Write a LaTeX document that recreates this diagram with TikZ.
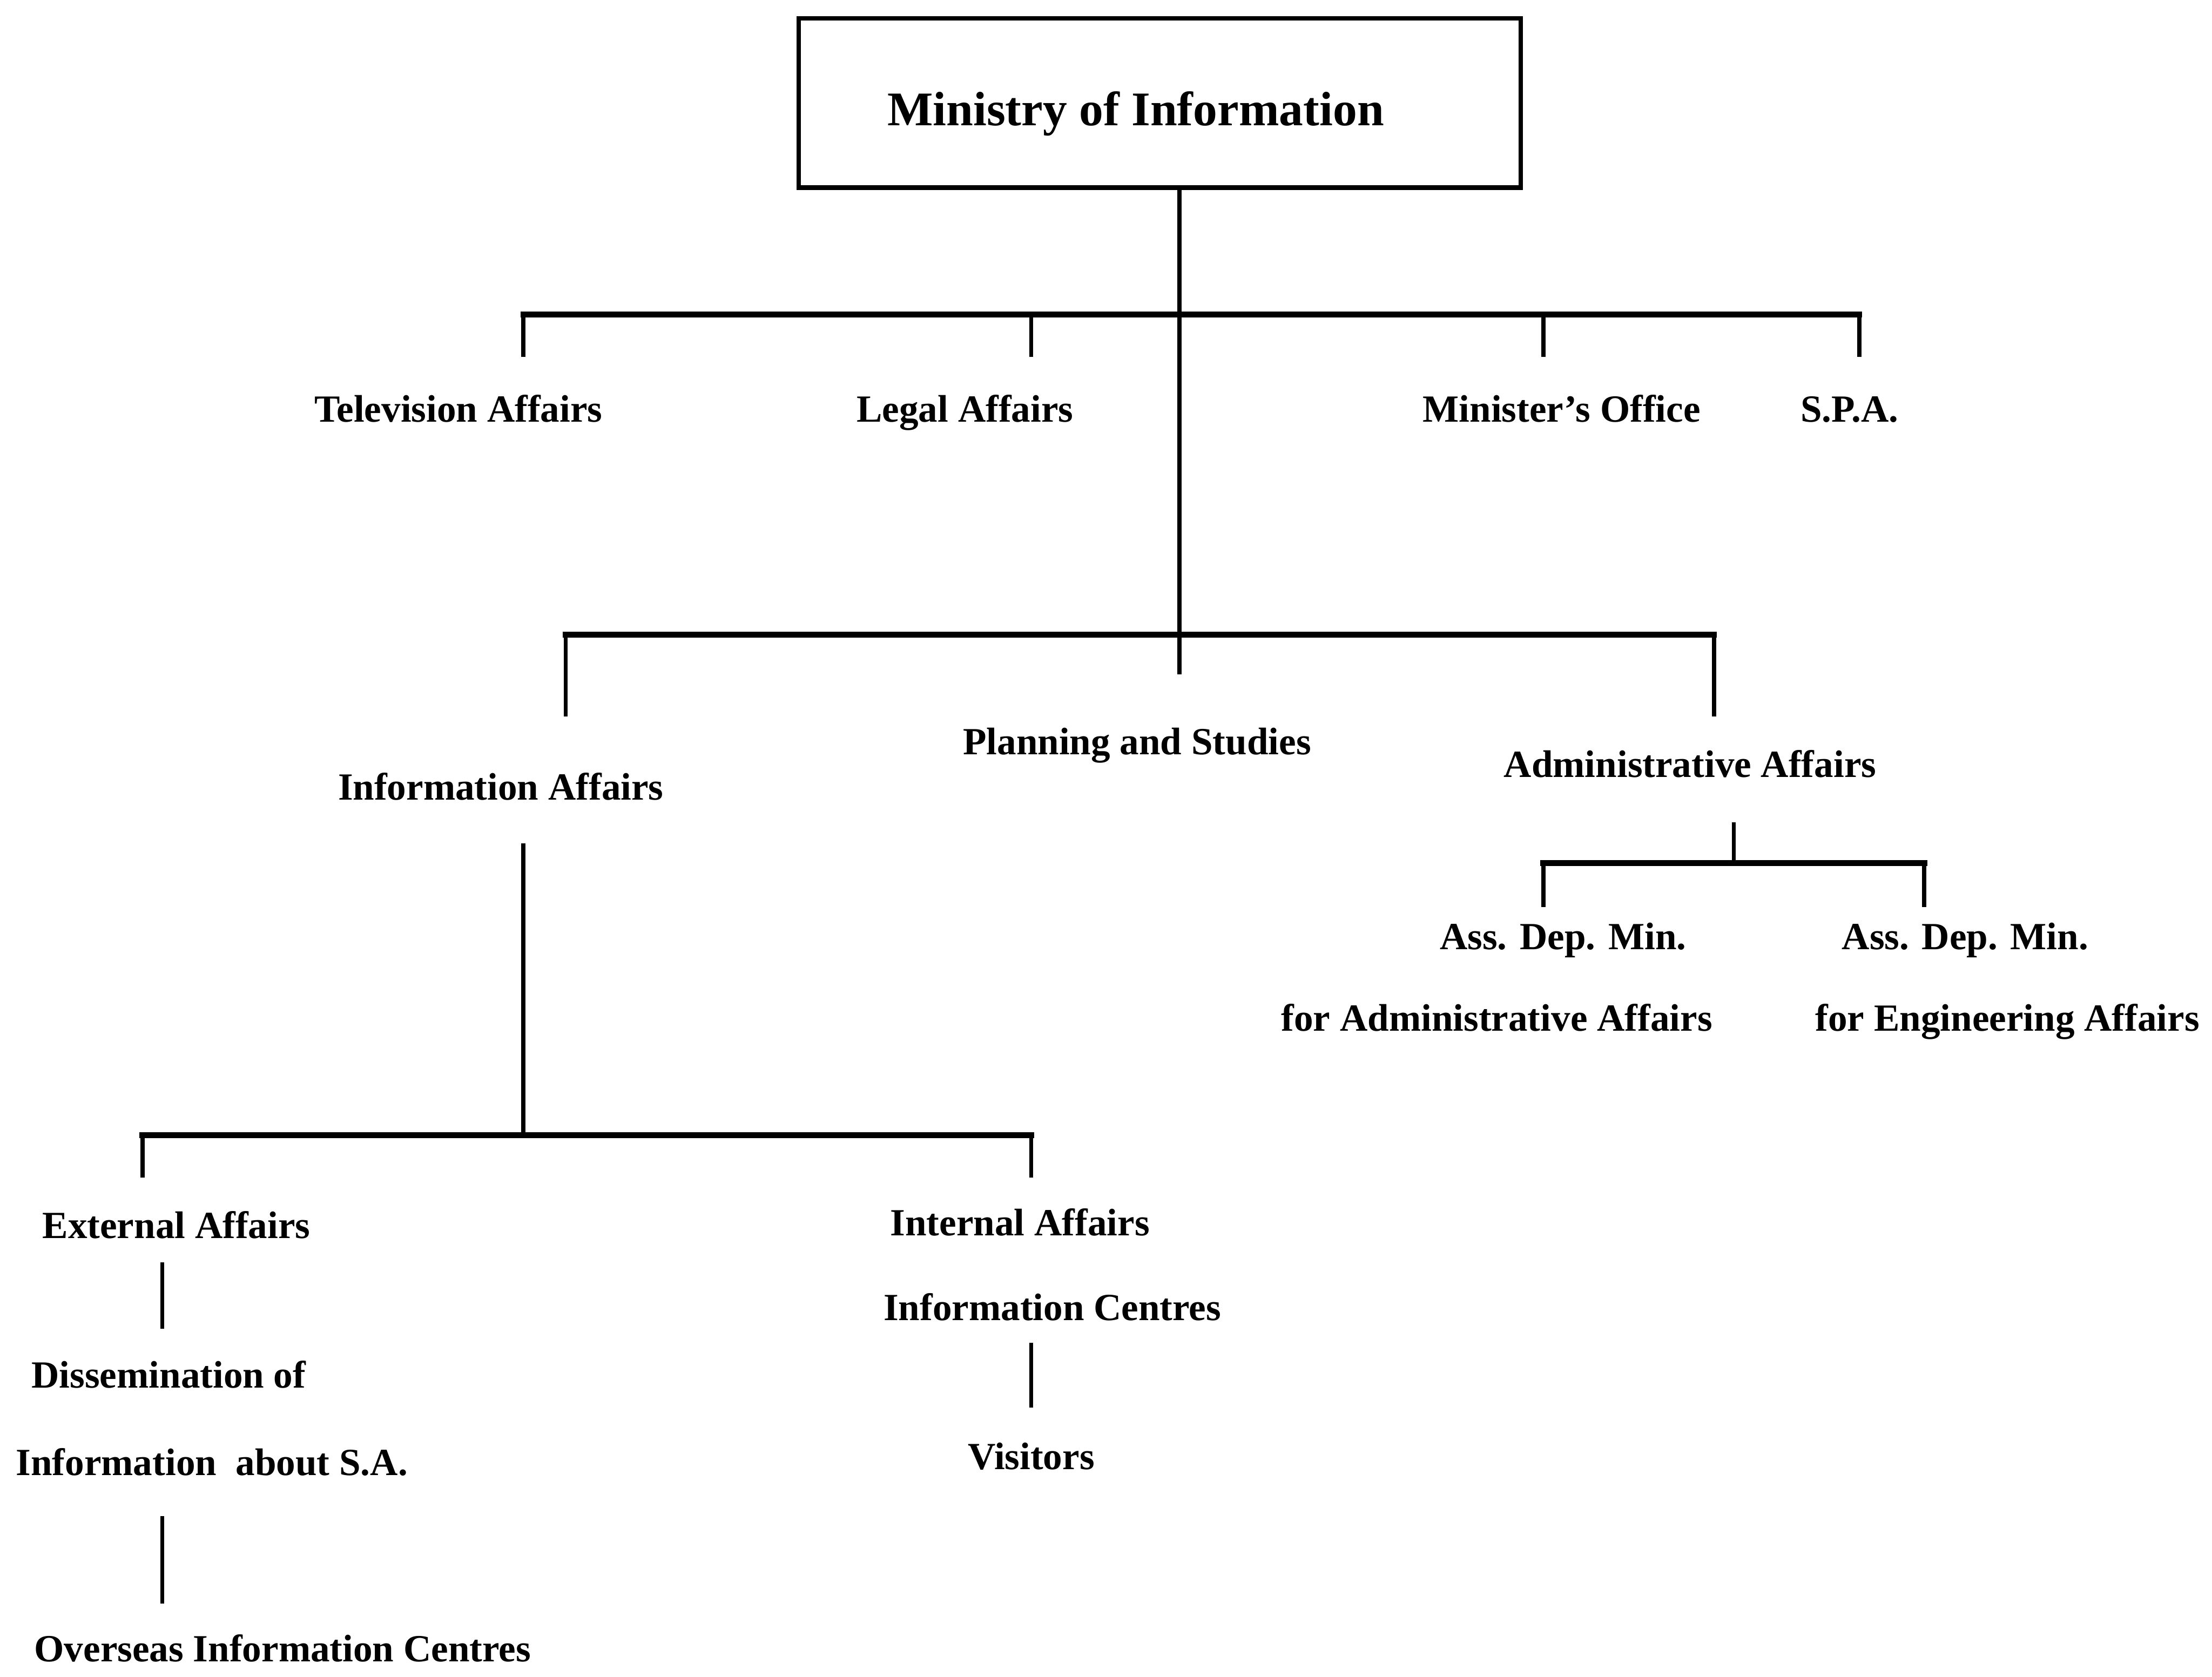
\documentclass[tikz,border=0pt]{standalone}
\usepackage{fontspec}
\setmainfont{Liberation Serif}
\begin{document}
\begin{tikzpicture}[x=0.02cm,y=-0.02cm,
  lbl/.style={font=\bfseries\fontsize{15.5}{18}\selectfont, inner sep=0pt, anchor=base},
  titlelbl/.style={font=\bfseries\fontsize{19.5}{22}\selectfont, inner sep=0pt, anchor=base},
  bar/.style={line width=2.4pt, line cap=rect},
  vline/.style={line width=1.6pt},
  boxstyle/.style={draw, line width=1.8pt, inner sep=0pt, minimum width=10.24cm, minimum height=2.4cm}]
\useasboundingbox (0,0) rectangle (1568,1189);

% top box
\node[boxstyle] (min) at (822,73) {};
\node[titlelbl] (mintxt) at (805,89) {Ministry of Information};

% first level labels
\node[lbl] (tv)  at (325,299) {Television Affairs};
\node[lbl] (leg) at (684,299) {Legal Affairs};
\node[lbl] (mo)  at (1107,299) {Minister's Office};
\node[lbl] (spa) at (1311,299) {S.P.A.};

% second level labels
\node[lbl] (info) at (355,567) {Information Affairs};
\node[lbl] (plan) at (806,535) {Planning and Studies};
\node[lbl] (adm)  at (1198,551) {Administrative Affairs};

% admin sub
\node[lbl] (ada1) at (1108,673) {Ass. Dep. Min.};
\node[lbl] (ada2) at (1061,731) {for Administrative Affairs};
\node[lbl] (ade1) at (1393,673) {Ass. Dep. Min.};
\node[lbl] (ade2) at (1423,731) {for Engineering Affairs};

% information sub
\node[lbl] (ext)  at (125,878) {External Affairs};
\node[lbl] (intl) at (723,876) {Internal Affairs};
\node[lbl, anchor=base west] (ic) at (626,936) {Information Centres};
\node[lbl, anchor=base west] (dis1) at (22,984) {Dissemination of};
\node[lbl, anchor=base west] (dis2) at (11,1046) {Information\ \ about S.A.};
\node[lbl, anchor=base west] (ovs) at (24,1178) {Overseas Information Centres};
\node[lbl] (vis) at (731,1042) {Visitors};

% coordinates
\coordinate (j1) at (836,223);
\coordinate (j2) at (836,450);
\coordinate (planB) at (836,478);
\coordinate (tvT) at (371,223);   \coordinate (tvB) at (371,253);
\coordinate (legT) at (731,223);  \coordinate (legB) at (731,253);
\coordinate (moT) at (1094,223);  \coordinate (moB) at (1094,253);
\coordinate (spaT) at (1318,223); \coordinate (spaB) at (1318,253);

\coordinate (infoT) at (401,450); \coordinate (infoB) at (401,508);
\coordinate (admT) at (1215,450); \coordinate (admB) at (1215,508);

\coordinate (admS) at (1229,583); \coordinate (admJ) at (1229,612);
\coordinate (a1T) at (1094,612);  \coordinate (a1B) at (1094,643);
\coordinate (a2T) at (1364,612);  \coordinate (a2B) at (1364,643);

\coordinate (infS) at (371,598);  \coordinate (infJ) at (371,805);
\coordinate (extT) at (101,805);  \coordinate (extB) at (101,835);
\coordinate (intT) at (731,805);  \coordinate (intB) at (731,835);

\coordinate (e1a) at (115,895);   \coordinate (e1b) at (115,942);
\coordinate (e2a) at (115,1075);  \coordinate (e2b) at (115,1137);
\coordinate (v1a) at (731,952);   \coordinate (v1b) at (731,998);

% connectors
\draw[vline] (min.south -| j1) -- (planB);
\draw[bar] (tvT) -- (spaT);
\draw[vline] (tvT) -- (tvB);
\draw[vline] (legT) -- (legB);
\draw[vline] (moT) -- (moB);
\draw[vline] (spaT) -- (spaB);

\draw[bar] (infoT) -- (admT);
\draw[vline] (infoT) -- (infoB);
\draw[vline] (admT) -- (admB);

\draw[vline] (admS) -- (admJ);
\draw[bar] (a1T) -- (a2T);
\draw[vline] (a1T) -- (a1B);
\draw[vline] (a2T) -- (a2B);

\draw[vline] (infS) -- (infJ);
\draw[bar] (extT) -- (intT);
\draw[vline] (extT) -- (extB);
\draw[vline] (intT) -- (intB);

\draw[vline] (e1a) -- (e1b);
\draw[vline] (e2a) -- (e2b);
\draw[vline] (v1a) -- (v1b);
\end{tikzpicture}
\end{document}
